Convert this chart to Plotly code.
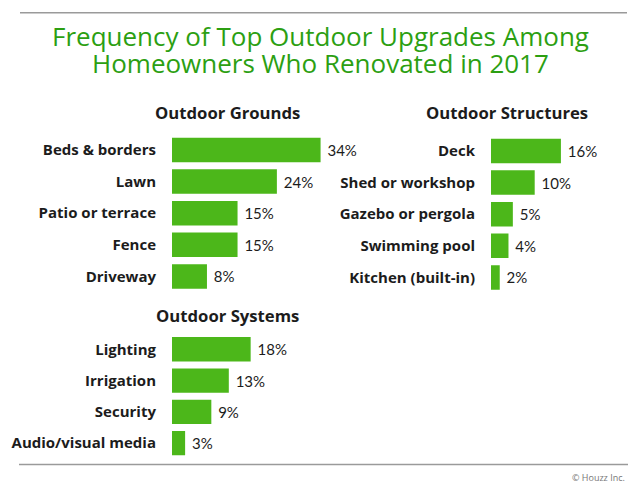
import plotly.graph_objects as go

# ---- data ----
title_lines = ["Frequency of Top Outdoor Upgrades Among", "Homeowners Who Renovated in 2017"]
panel_titles = ["Outdoor Grounds", "Outdoor Structures", "Outdoor Systems"]

grounds_cats = ["Beds & borders", "Lawn", "Patio or terrace", "Fence", "Driveway"]
grounds_vals = [34, 24, 15, 15, 8]

structures_cats = ["Deck", "Shed or workshop", "Gazebo or pergola", "Swimming pool", "Kitchen (built-in)"]
structures_vals = [16, 10, 5, 4, 2]

systems_cats = ["Lighting", "Irrigation", "Security", "Audio/visual media"]
systems_vals = [18, 13, 9, 3]

credit = "© Houzz Inc."

# ---- layout helpers ----
W, H = 640, 492
BAR = "#4cb71a"
GREEN_T = "#2c9f12"
DARK = "#1c1c1c"
PX_PER_PCT = 4.37
LABEL_FONT = dict(family="Open Sans", size=15, color=DARK, weight=700)


def fx(x):
    return x / W


def fy(y):
    return 1 - y / H


fig = go.Figure()

panels = [
    # cats, vals, axis suffix, bar-left px, x-range max, top px, pitch px, title x, title y
    (grounds_cats, grounds_vals, "", 172, 40, 134.2, 31.6, 227.5, 112, panel_titles[0]),
    (structures_cats, structures_vals, "2", 491, 30, 135.2, 31.6, 507, 112, panel_titles[1]),
    (systems_cats, systems_vals, "3", 172, 40, 333.6, 31.3, 227, 315.5, panel_titles[2]),
]

annotations = []
for cats, vals, sfx, x0, xmax, top, pitch, tx, ty, ptitle in panels:
    n = len(cats)
    fig.add_trace(go.Bar(
        x=vals, y=cats, orientation="h",
        marker=dict(color=BAR, line=dict(width=0)),
        width=0.775,
        text=[f" {v}%" for v in vals],
        textposition="outside",
        textfont=dict(family="Lato", size=15, color=DARK),
        cliponaxis=False,
        constraintext="none",
        xaxis="x" + sfx, yaxis="y" + sfx,
        hoverinfo="skip",
        showlegend=False,
    ))
    x1 = x0 + xmax * PX_PER_PCT
    bottom = top + n * pitch
    fig.layout["xaxis" + sfx] = dict(
        domain=[fx(x0), fx(x1)], range=[0, xmax], anchor="y" + sfx,
        visible=False, fixedrange=True,
    )
    fig.layout["yaxis" + sfx] = dict(
        domain=[fy(bottom), fy(top)], anchor="x" + sfx,
        type="category", categoryorder="array", categoryarray=cats,
        range=[n - 0.5, -0.5],
        showgrid=False, zeroline=False, showline=False, ticks="",
        ticklabelstandoff=15,
        tickfont=LABEL_FONT,
        fixedrange=True,
    )
    annotations.append(dict(
        text=ptitle, x=fx(tx), y=fy(ty), xref="paper", yref="paper",
        xanchor="center", yanchor="middle", showarrow=False,
        font=dict(family="Open Sans", size=16.7, color=DARK, weight=700),
    ))

for line, ypx in zip(title_lines, [36, 63]):
    annotations.append(dict(
        text=line, x=0.5, y=fy(ypx), xref="paper", yref="paper",
        xanchor="center", yanchor="middle", showarrow=False,
        font=dict(family="Open Sans", size=26, color=GREEN_T, weight=400),
    ))
annotations.append(dict(
    text=credit, x=fx(627), y=fy(477), xref="paper", yref="paper",
    xanchor="right", yanchor="middle", showarrow=False,
    font=dict(family="Open Sans", size=9, color="#777777"),
))

shapes = [
    dict(type="line", xref="paper", yref="paper", x0=fx(20), x1=fx(627), y0=fy(12.7), y1=fy(12.7),
         line=dict(color="#9a9a9a", width=1.5)),
    dict(type="line", xref="paper", yref="paper", x0=fx(19), x1=fx(628), y0=fy(464.5), y1=fy(464.5),
         line=dict(color="#9a9a9a", width=1.5)),
]

fig.update_layout(
    width=W, height=H,
    margin=dict(l=0, r=0, t=0, b=0),
    paper_bgcolor="white", plot_bgcolor="rgba(0,0,0,0)",
    annotations=annotations, shapes=shapes,
    bargap=0.2,
)

fig.write_html("out.html", config={"displayModeBar": False},
               post_script="document.body.style.margin='0';document.body.style.overflow='hidden';")
